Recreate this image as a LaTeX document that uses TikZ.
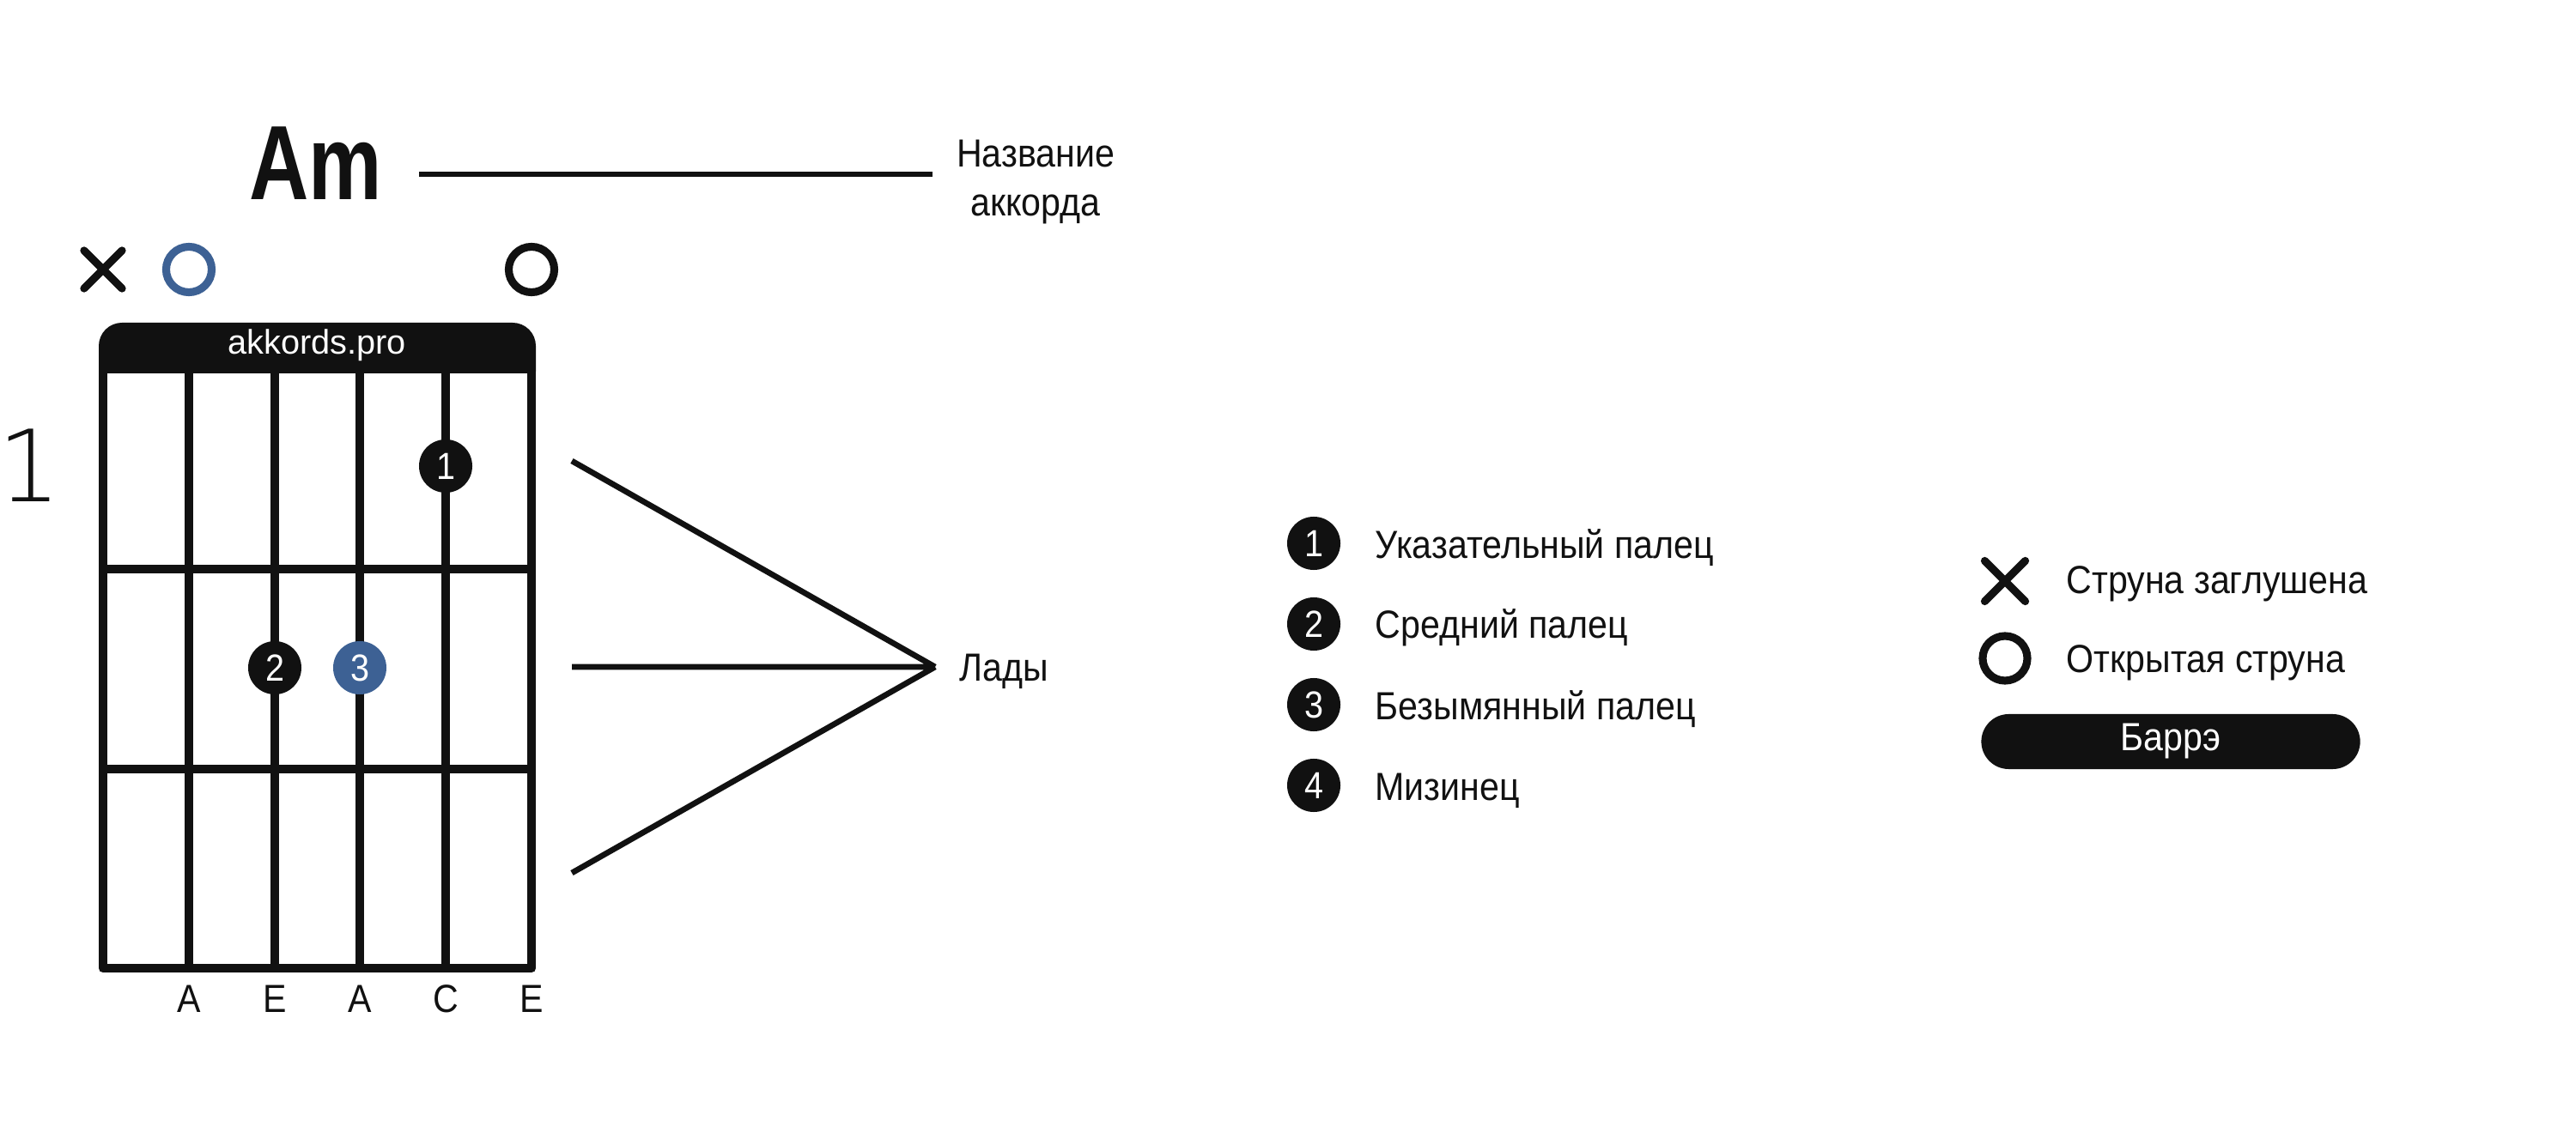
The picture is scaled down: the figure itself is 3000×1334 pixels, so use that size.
\documentclass[tikz,border=0pt]{standalone}
\usepackage{fontspec}
\setmainfont[FakeStretch=0.9]{Liberation Sans}
\newfontfamily\chordfont[FakeStretch=0.78]{Liberation Sans}
\newfontfamily\plainfont{Liberation Sans}
\newfontfamily\thinfont{DejaVu Sans ExtraLight}
\usetikzlibrary{shapes.misc}
\definecolor{ink}{HTML}{111111}
\definecolor{fingerblue}{HTML}{3D6194}

\begin{document}
\begin{tikzpicture}[x=0.01cm, y=-0.01cm,
    fretline/.style={draw=ink, line width=2.6pt},
    rim/.style={draw=ink, line width=3.1pt, line join=round},
    leadline/.style={draw=ink, line width=1.9pt},
    txt/.style={text=ink, inner sep=0pt, font=\fontsize{13}{16}\selectfont},
    finger/.style={circle, fill=ink, text=white, minimum size=0.62cm, inner sep=0pt, font=\fontsize{12.5}{12.5}\selectfont},
    ring/.style={circle, draw=ink, line width=2.6pt, minimum size=0.53cm, inner sep=0pt},
    mute/.style={cross out, draw=ink, line width=2.6pt, line cap=round, minimum size=0.35cm, inner sep=0pt}]
  \useasboundingbox (0,0) rectangle (3000,1334);
  % Chord name
  \node[anchor=base, inner sep=0pt, text=ink, font=\chordfont\bfseries\fontsize{35}{35}\selectfont] (chord) at (368,233) {Am};
  \node[txt, align=center] (chordname) at (1206,212) {Название\\аккорда};
  \coordinate (nameA) at (488,203); \coordinate (nameB) at (1086,203);
  \draw[leadline] (nameA) -- (nameB);
  % Muted / open strings
  \node[mute] (x1) at (120,314) {};
  \node[ring, draw=fingerblue] (o2) at (220,314) {};
  \node[ring] (o6) at (619,314) {};
  % Header
  \fill[ink] (115,433) [rounded corners=0.27cm] -- (115,376) -- (624,376) [sharp corners] -- (624,433) -- cycle;
  \node[anchor=base, inner sep=0pt, text=white, font=\plainfont\fontsize{11.3}{11.3}\selectfont] (site) at (369,413) {akkords.pro};
  % Grid
  \draw[rim] (120,430) rectangle (619,1128);
  \draw[fretline] (220,430) -- (220,1128) (320,430) -- (320,1128) (419,430) -- (419,1128) (519,430) -- (519,1128);
  \draw[fretline] (120,663) -- (619,663) (120,896) -- (619,896);
  \node[anchor=base, inner sep=0pt, text=ink, font=\thinfont\fontsize{33}{33}\selectfont] (fretno) at (34,585) {1};
  % Fingers
  \node[finger] (f1) at (519,543) {1};
  \node[finger] (f2) at (320,778) {2};
  \node[finger, fill=fingerblue] (f3) at (419,778) {3};
  % String names
  \node[txt, anchor=base] (s2) at (220,1179) {A};
  \node[txt, anchor=base] (s3) at (320,1179) {E};
  \node[txt, anchor=base] (s4) at (419,1179) {A};
  \node[txt, anchor=base] (s5) at (519,1179) {C};
  \node[txt, anchor=base] (s6) at (619,1179) {E};
  % Frets pointer
  \coordinate (fretA) at (666,537); \coordinate (fretB) at (666,777);
  \coordinate (fretC) at (666,1017); \coordinate (fretsum) at (1089,777);
  \draw[leadline] (fretA) -- (fretsum) (fretB) -- (fretsum) (fretC) -- (fretsum);
  \node[txt, anchor=base west] (frets) at (1117,793) {Лады};
  % Finger legend
  \node[finger] (k1) at (1530,633) {1};
  \node[txt, anchor=base west] (k1t) at (1601,650) {Указательный палец};
  \node[finger] (k2) at (1530,727) {2};
  \node[txt, anchor=base west] (k2t) at (1601,744) {Средний палец};
  \node[finger] (k3) at (1530,821) {3};
  \node[txt, anchor=base west] (k3t) at (1601,838) {Безымянный палец};
  \node[finger] (k4) at (1530,915) {4};
  \node[txt, anchor=base west] (k4t) at (1601,932) {Мизинец};
  % Marks legend
  \node[mute, minimum size=0.38cm] (kx) at (2335,677) {};
  \node[txt, anchor=base west] (kxt) at (2406,692) {Струна заглушена};
  \node[ring, minimum size=0.52cm] (ko) at (2335,767) {};
  \node[txt, anchor=base west] (kot) at (2406,783) {Открытая струна};
  \node[txt, fill=ink, text=white, rounded corners=0.32cm, minimum width=4.41cm, minimum height=0.64cm] (barre) at (2528,864) {Баррэ};
\end{tikzpicture}
\end{document}
